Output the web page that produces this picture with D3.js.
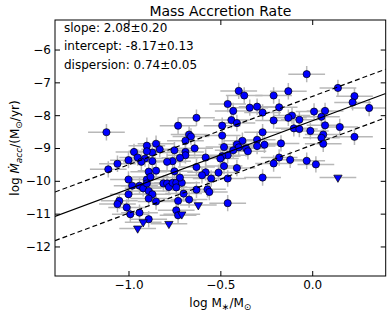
<!DOCTYPE html>
<html>
<head>
<meta charset="utf-8">
<script src="https://cdn.jsdelivr.net/npm/d3@7"></script>
<style>
body { margin: 0; background: #fff; }
text { font-family: "DejaVu Sans", sans-serif; }
</style>
</head>
<body>
<script>
var width = 391, height = 316;
var plotLeft = 55, plotRight = 385.7, plotTop = 20, plotBottom = 276;

// detections: log M* and log Mdot
var logM = [
-0.03,-0.40,-0.37,-0.21,-0.13,-0.46,-0.43,-0.34,-0.30,-0.27,
-0.18,0.14,0.23,0.22,0.01,0.07,0.05,-0.11,-0.13,-0.07,
-0.21,0.31,0.07,0.15,-0.01,-0.10,-0.07,-0.27,0.06,0.05,
0.23,-0.26,-0.17,0.06,-0.18,-0.21,-0.12,-0.03,0.02,-0.27,
-0.44,-0.41,-0.49,-0.49,-0.63,-0.73,-1.12,-0.67,-0.66,-0.69,
-0.64,-0.69,-0.69,-0.72,-0.75,-0.76,-0.79,-0.75,-0.85,-0.90,
-0.83,-0.87,-0.90,-0.97,-0.95,-0.91,-0.93,-0.87,-1.00,-1.06,
-1.11,-0.63,-0.89,-0.85,-0.30,-0.30,-0.38,-0.41,-0.40,-0.36,
-0.35,-0.43,-0.48,-0.46,-0.49,-0.50,-0.58,-0.48,-0.41,-0.51,
-0.58,-0.60,-0.55,-0.46,-0.63,-0.57,-0.56,-0.46,-1.00,-0.98,
-0.94,-0.92,-0.90,-0.88,-0.90,-0.89,-0.87,-0.89,-0.85,-1.00,
-1.05,-1.06,-1.01,-0.99,-0.94,-0.89,-0.81,-0.79,-0.78,-0.76,
-0.74,-0.71,-0.74,-0.72,-0.70,-0.67,-0.73,-0.74,-0.73
];
var logMdot = [
-6.75,-7.26,-7.40,-7.40,-7.27,-7.66,-7.87,-7.77,-7.74,-7.92,
-7.76,-7.17,-7.42,-7.61,-7.89,-7.87,-8.05,-8.01,-8.08,-8.14,
-8.16,-7.78,-8.31,-8.36,-8.48,-8.40,-8.42,-8.52,-8.59,-8.69,
-8.66,-8.90,-8.86,-8.87,-9.29,-9.47,-9.36,-9.39,-9.50,-9.90,
-8.15,-8.24,-8.32,-8.62,-8.08,-8.32,-8.52,-8.59,-8.65,-8.78,
-9.01,-9.12,-9.22,-9.30,-9.07,-9.40,-9.42,-9.71,-8.87,-8.93,
-9.04,-9.14,-9.10,-9.12,-9.29,-9.32,-9.42,-9.40,-9.37,-9.48,
-9.65,-9.58,-9.72,-9.69,-8.75,-8.94,-8.78,-8.89,-8.98,-9.01,
-9.10,-9.07,-8.97,-9.22,-9.25,-9.32,-9.29,-9.55,-9.61,-9.75,
-9.74,-9.83,-9.93,-9.93,-10.27,-10.26,-10.34,-10.68,-9.96,-10.15,
-10.15,-10.23,-9.96,-9.88,-10.08,-10.31,-10.41,-10.54,-10.63,-10.41,
-10.61,-10.71,-10.81,-11.02,-10.97,-11.17,-10.08,-10.08,-10.19,-10.06,
-10.06,-10.06,-10.20,-9.90,-10.39,-10.57,-10.61,-10.90,-11.05
];
// upper limits
var limM = [-0.95,-0.92,-0.78,-0.71,-0.62,0.14];
var limMdot = [-11.45,-11.26,-11.31,-11.02,-10.74,-9.90];
var xErr = 0.1, yErr = 0.25;

// fit
var slope = 2.08, slopeErr = 0.20, intercept = -8.17, interceptErr = 0.13, dispersion = 0.74, dispersionErr = 0.05;

var xTicks = [-1.0, -0.5, 0.0];
var yTicks = [-6, -7, -8, -9, -10, -11, -12];
var xDomain = [-1.4, 0.4], yDomain = [-12.9, -5.1];

var scaleX = d3.scaleLinear().domain(xDomain).range([plotLeft, plotRight]);
var scaleY = d3.scaleLinear().domain(yDomain).range([plotBottom, plotTop]);

var svg = d3.select("body").append("svg").attr("width", width).attr("height", height);

function fmt(v){ return d3.format(".1f")(v).replace("-", "\u2212"); }

// axes with inward ticks
svg.append("g").attr("transform", "translate(0," + plotBottom + ")")
    .call(d3.axisBottom(scaleX).tickValues(xTicks).tickSize(-5).tickPadding(4).tickFormat(fmt));
svg.append("g").attr("transform", "translate(0," + plotTop + ")")
    .call(d3.axisTop(scaleX).tickValues(xTicks).tickSize(-5).tickFormat(""));
svg.append("g").attr("transform", "translate(" + plotLeft + ",0)")
    .call(d3.axisLeft(scaleY).tickValues(yTicks).tickSize(-5).tickPadding(4)
        .tickFormat(function(d){ return String(d).replace("-", "\u2212"); }));
svg.append("g").attr("transform", "translate(" + plotRight + ",0)")
    .call(d3.axisRight(scaleY).tickValues(yTicks).tickSize(-5).tickFormat(""));
svg.selectAll(".domain").remove();
svg.selectAll(".tick line").attr("stroke", "#000");
svg.selectAll(".tick text").attr("font-size", "12px").attr("font-family", "DejaVu Sans").attr("fill", "#000");

svg.append("clipPath").attr("id", "clip").append("rect")
    .attr("x", plotLeft).attr("y", plotTop).attr("width", plotRight - plotLeft).attr("height", plotBottom - plotTop);
var plot = svg.append("g").attr("clip-path", "url(#clip)");

var points = logM.map(function(m, i){ return {x: m, y: logMdot[i]}; });
var limits = limM.map(function(m, i){ return {x: m, y: limMdot[i]}; });

// error bars
var errColor = "#b8b8b8";
plot.selectAll("line.xe").data(points.concat(limits)).enter().append("line")
    .attr("x1", function(d){ return scaleX(d.x - xErr); })
    .attr("x2", function(d){ return scaleX(d.x + xErr); })
    .attr("y1", function(d){ return scaleY(d.y); })
    .attr("y2", function(d){ return scaleY(d.y); })
    .attr("stroke", errColor).attr("stroke-width", 1.5);
plot.selectAll("line.ye").data(points).enter().append("line")
    .attr("x1", function(d){ return scaleX(d.x); })
    .attr("x2", function(d){ return scaleX(d.x); })
    .attr("y1", function(d){ return scaleY(d.y - yErr); })
    .attr("y2", function(d){ return scaleY(d.y + yErr); })
    .attr("stroke", errColor).attr("stroke-width", 1.5);

// markers
plot.selectAll("circle").data(points).enter().append("circle")
    .attr("cx", function(d){ return scaleX(d.x); })
    .attr("cy", function(d){ return scaleY(d.y); })
    .attr("r", 3.6)
    .attr("fill", "#0000ff").attr("stroke", "#000").attr("stroke-width", 0.7);
plot.selectAll("path.lim").data(limits).enter().append("path")
    .attr("d", d3.symbol().type(d3.symbolTriangle).size(30))
    .attr("transform", function(d){ return "translate(" + scaleX(d.x) + "," + scaleY(d.y) + ") rotate(180)"; })
    .attr("fill", "#0000ff").attr("stroke", "#000").attr("stroke-width", 0.7);

// fit lines
var line = d3.line().x(function(d){ return scaleX(d[0]); }).y(function(d){ return scaleY(d[1]); });
function fitLine(offset){
    return xDomain.map(function(x){ return [x, intercept + slope * x + offset]; });
}
plot.append("path").attr("d", line(fitLine(0))).attr("fill", "none").attr("stroke", "#000").attr("stroke-width", 1.2);
plot.append("path").attr("d", line(fitLine(dispersion))).attr("fill", "none").attr("stroke", "#000").attr("stroke-width", 1.2).attr("stroke-dasharray", "5,3");
plot.append("path").attr("d", line(fitLine(-dispersion))).attr("fill", "none").attr("stroke", "#000").attr("stroke-width", 1.2).attr("stroke-dasharray", "5,3");

// frame
svg.append("rect").attr("x", plotLeft).attr("y", plotTop).attr("width", plotRight - plotLeft).attr("height", plotBottom - plotTop)
    .attr("fill", "none").attr("stroke", "#000").attr("stroke-width", 1);

// annotations
var notes = [
    "slope: " + slope.toFixed(2) + "\u00b1" + slopeErr.toFixed(2),
    "intercept: " + intercept.toFixed(2) + "\u00b1" + interceptErr.toFixed(2),
    "dispersion: " + dispersion.toFixed(2) + "\u00b1" + dispersionErr.toFixed(2)
];
svg.selectAll("text.note").data(notes).enter().append("text")
    .attr("x", 64).attr("y", function(d, i){ return 31.5 + i * 18.5; })
    .attr("font-size", "12px").attr("fill", "#000").text(function(d){ return d; });

// title
svg.append("text").attr("x", (plotLeft + plotRight) / 2).attr("y", 15.5).attr("text-anchor", "middle")
    .attr("font-size", "14px").text("Mass Accretion Rate");

// x label
var xl = svg.append("text").attr("x", (plotLeft + plotRight) / 2).attr("y", 307).attr("text-anchor", "middle").attr("font-size", "12px");
xl.append("tspan").text("log M");
xl.append("tspan").attr("font-size", "9px").attr("dy", 3).text("\u2217");
xl.append("tspan").attr("dy", -3).text("/M");
xl.append("tspan").attr("font-size", "9px").attr("dy", 3).text("\u2299");

// y label
var yl = svg.append("text").attr("transform", "translate(19," + (plotTop + plotBottom) / 2 + ") rotate(-90)")
    .attr("text-anchor", "middle").attr("font-size", "12px");
yl.append("tspan").text("log ");
yl.append("tspan").attr("font-style", "italic").text("\u1E40");
yl.append("tspan").attr("font-style", "italic").attr("font-size", "9px").attr("dy", 3).text("acc");
yl.append("tspan").attr("dy", -3).text("/(M");
yl.append("tspan").attr("font-size", "9px").attr("dy", 3).text("\u2299");
yl.append("tspan").attr("dy", -3).text("/yr)");
</script>
</body>
</html>
